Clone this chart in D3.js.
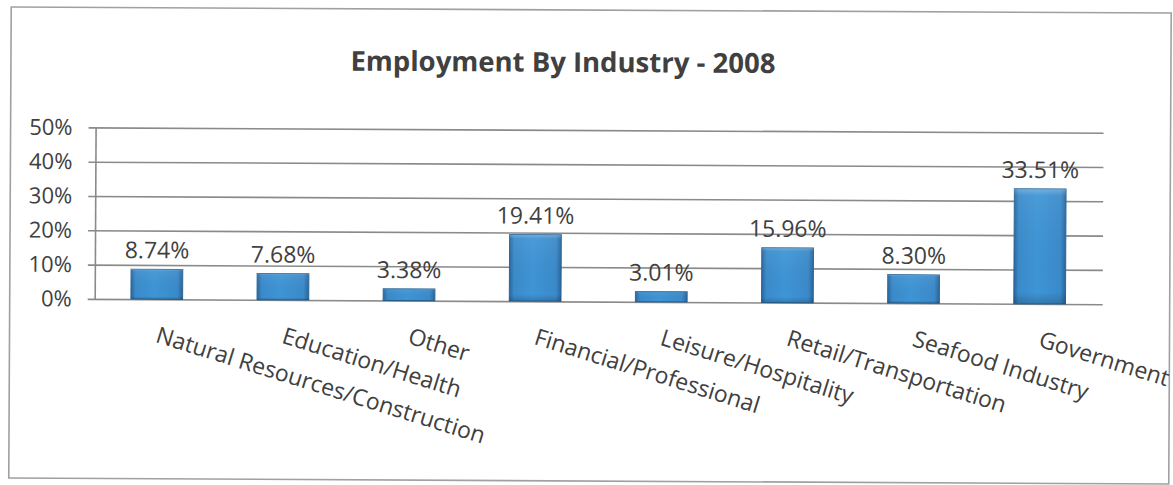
<!DOCTYPE html>
<html>
<head>
<meta charset="utf-8">
<script src="https://cdn.jsdelivr.net/npm/d3@7"></script>
<style>
  html, body { margin: 0; padding: 0; background: #fff; }
  svg { display: block; }
  text { font-family: "Open Sans", "Noto Sans", sans-serif; fill: #404040; }
</style>
</head>
<body>
<svg id="chart" width="1173" height="485"></svg>
<script>
// Employment share by industry, 2008
const categories = [
  "Natural Resources/Construction",
  "Education/Health",
  "Other",
  "Financial/Professional",
  "Leisure/Hospitality",
  "Retail/Transportation",
  "Seafood Industry",
  "Government"
];
const values = [8.74, 7.68, 3.38, 19.41, 3.01, 15.96, 8.30, 33.51];
const yTicks = [0, 10, 20, 30, 40, 50];
const title = "Employment By Industry - 2008";

const W = 1173, H = 485;
const plot = { left: 95, right: 1103, top: 130, bottom: 301.5 };

const svg = d3.select("#chart");

// Bar fill: darker edges, brighter centre
const defs = svg.append("defs");
const grad = defs.append("linearGradient").attr("id", "barFill")
  .attr("x1", "0%").attr("x2", "100%").attr("y1", "0%").attr("y2", "0%");
[["0%", "#2a679e"], ["9%", "#3a8bcb"], ["45%", "#3e95d6"], ["90%", "#3a8aca"], ["100%", "#2a659a"]]
  .forEach(([o, c]) => grad.append("stop").attr("offset", o).attr("stop-color", c));
const shade = defs.append("linearGradient").attr("id", "barShade")
  .attr("x1", "0%").attr("x2", "0%").attr("y1", "0%").attr("y2", "100%");
[["0%", "#ffffff", 0.28], ["6%", "#ffffff", 0.06], ["90%", "#000000", 0], ["100%", "#000000", 0.18]]
  .forEach(([o, c, a]) => shade.append("stop").attr("offset", o).attr("stop-color", c).attr("stop-opacity", a));

const root = svg.append("g").attr("transform", `rotate(0.3 ${W / 2} ${H / 2})`);

// Chart frame
root.append("rect")
  .attr("x", 10).attr("y", 10).attr("width", 1160).attr("height", 471)
  .attr("fill", "#fff").attr("stroke", "#a0a0a0").attr("stroke-width", 1.6);

// Title
root.append("text")
  .attr("x", 562).attr("y", 72)
  .attr("text-anchor", "middle")
  .style("font-size", "27.5px").style("font-weight", "bold")
  .text(title);

const x = d3.scaleBand()
  .domain(categories)
  .range([94, plot.right])
  .paddingInner(0.59)
  .paddingOuter(0.295);

const y = d3.scaleLinear()
  .domain([0, 50])
  .range([plot.bottom, plot.top]);

// Gridlines, tick marks and value axis
const yAxis = root.append("g")
  .attr("transform", `translate(${plot.left},0)`)
  .call(d3.axisLeft(y)
    .tickValues(yTicks)
    .tickFormat(d => d + "%")
    .tickSizeInner(-(plot.right - plot.left))
    .tickSizeOuter(0)
    .tickPadding(23));
yAxis.select(".domain").attr("stroke", "#8a8a8a").attr("stroke-width", 1.6);
yAxis.selectAll(".tick line")
  .attr("x1", -7)
  .attr("stroke", "#8a8a8a").attr("stroke-width", 1.6);
yAxis.selectAll(".tick text")
  .attr("fill", "#404040")
  .style("font-size", "22px")
  .style("font-family", "\"Open Sans\", sans-serif");

// Bars
const data = categories.map((c, i) => ({ c, v: values[i] }));
const bars = root.append("g");
bars.selectAll("rect.bar")
  .data(data).join("rect").attr("class", "bar")
  .attr("x", d => x(d.c))
  .attr("y", d => y(d.v))
  .attr("width", x.bandwidth())
  .attr("height", d => y(0) - y(d.v))
  .attr("fill", "url(#barFill)")
  .attr("stroke", "#2b6597").attr("stroke-width", 1);
bars.selectAll("rect.shade")
  .data(data).join("rect").attr("class", "shade")
  .attr("x", d => x(d.c))
  .attr("y", d => y(d.v))
  .attr("width", x.bandwidth())
  .attr("height", d => y(0) - y(d.v))
  .attr("fill", "url(#barShade)");

// Value labels
root.append("g").selectAll("text")
  .data(data).join("text")
  .attr("x", d => x(d.c) + x.bandwidth() / 2)
  .attr("y", d => y(d.v) - 11)
  .attr("text-anchor", "middle")
  .style("font-size", "23px")
  .text(d => d.v.toFixed(2) + "%");

// Category labels, slanted
root.append("g").selectAll("text")
  .data(categories).join("text")
  .attr("transform", c => `translate(${x(c) + x.bandwidth() / 2 - 2},344) rotate(17)`)
  .attr("text-anchor", "start")
  .style("font-size", "23px")
  .text(c => c);
</script>
</body>
</html>
